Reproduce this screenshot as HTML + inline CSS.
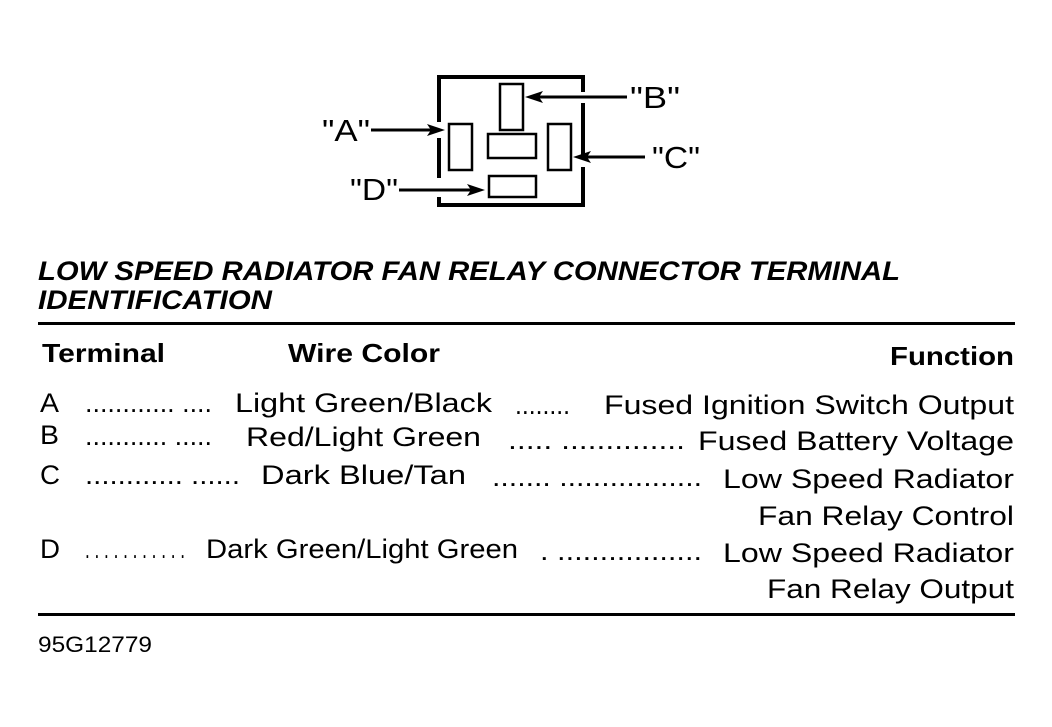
<!DOCTYPE html>
<html><head><meta charset="utf-8"><style>
html,body{margin:0;padding:0;background:#fff;}
svg{display:block;}
text{font-family:"Liberation Sans",Arial,sans-serif;fill:#000;}
.t{font-size:27px;}
.l{font-size:31px;}
.b{font-size:26px;font-weight:bold;}
.h{font-size:27px;font-weight:bold;font-style:italic;}
</style></head><body>
<svg width="1052" height="727" viewBox="0 0 1052 727" xmlns="http://www.w3.org/2000/svg">
<g stroke="#000" stroke-width="4" fill="none">
<line x1="437" y1="77" x2="585" y2="77"/>
<line x1="437" y1="205" x2="585" y2="205"/>
<line x1="439" y1="75" x2="439" y2="122"/>
<line x1="439" y1="138" x2="439" y2="178"/>
<line x1="439" y1="197" x2="439" y2="207"/>
<line x1="583" y1="75" x2="583" y2="92"/>
<line x1="583" y1="103" x2="583" y2="156"/>
<line x1="583" y1="167" x2="583" y2="207"/>
</g>
<g stroke="#000" stroke-width="2.5" fill="none">
<rect x="500" y="84" width="23" height="46"/>
<rect x="449" y="124" width="23" height="46"/>
<rect x="488" y="134" width="48" height="24"/>
<rect x="548" y="124" width="23" height="46"/>
<rect x="489" y="176" width="47" height="21"/>
</g>
<g stroke="#000" stroke-width="3">
<line x1="627" y1="97" x2="535" y2="97"/>
<line x1="371" y1="130" x2="435" y2="130"/>
<line x1="645" y1="157" x2="583" y2="157"/>
<line x1="399" y1="190" x2="475" y2="190"/>
</g>
<g fill="#000">
<polygon points="525,97 543,91 539,97 543,103"/>
<polygon points="445,130 427,124 431,130 427,136"/>
<polygon points="573,157 591,151 587,157 591,163"/>
<polygon points="485,190 467,184 471,190 467,196"/>
</g>
<text class="l" x="322" y="141" textLength="48" lengthAdjust="spacingAndGlyphs">"A"</text>
<text class="l" x="630" y="108" textLength="50" lengthAdjust="spacingAndGlyphs">"B"</text>
<text class="l" x="652" y="168" textLength="48" lengthAdjust="spacingAndGlyphs">"C"</text>
<text class="l" x="350" y="200" textLength="48" lengthAdjust="spacingAndGlyphs">"D"</text>

<text class="h" x="38" y="280" textLength="862" lengthAdjust="spacingAndGlyphs">LOW SPEED RADIATOR FAN RELAY CONNECTOR TERMINAL</text>
<text class="h" x="38" y="309" textLength="234" lengthAdjust="spacingAndGlyphs">IDENTIFICATION</text>
<rect x="38" y="322" width="977" height="3" fill="#000"/>
<text class="b" x="42" y="362" textLength="123" lengthAdjust="spacingAndGlyphs">Terminal</text>
<text class="b" x="288" y="362" textLength="152" lengthAdjust="spacingAndGlyphs">Wire Color</text>
<text class="b" x="890" y="365" textLength="124" lengthAdjust="spacingAndGlyphs">Function</text>

<text class="t" x="40" y="412" textLength="19" lengthAdjust="spacingAndGlyphs">A</text>
<text class="t" x="85" y="412" textLength="127" lengthAdjust="spacingAndGlyphs">............ ....</text>
<text class="t" x="235" y="412" textLength="257" lengthAdjust="spacingAndGlyphs">Light Green/Black</text>
<text class="t" x="515" y="414" textLength="55" lengthAdjust="spacingAndGlyphs">........</text>
<text class="t" x="604" y="414" textLength="410" lengthAdjust="spacingAndGlyphs">Fused Ignition Switch Output</text>

<text class="t" x="40" y="444" textLength="19" lengthAdjust="spacingAndGlyphs">B</text>
<text class="t" x="85" y="445" textLength="127" lengthAdjust="spacingAndGlyphs">........... .....</text>
<text class="t" x="246" y="446" textLength="235" lengthAdjust="spacingAndGlyphs">Red/Light Green</text>
<text class="t" x="508" y="449" textLength="177" lengthAdjust="spacingAndGlyphs">..... ..............</text>
<text class="t" x="698" y="450" textLength="316" lengthAdjust="spacingAndGlyphs">Fused Battery Voltage</text>

<text class="t" x="40" y="484" textLength="20" lengthAdjust="spacingAndGlyphs">C</text>
<text class="t" x="85" y="484" textLength="155" lengthAdjust="spacingAndGlyphs">............ ......</text>
<text class="t" x="261" y="484" textLength="205" lengthAdjust="spacingAndGlyphs">Dark Blue/Tan</text>
<text class="t" x="492" y="486" textLength="210" lengthAdjust="spacingAndGlyphs">....... .................</text>
<text class="t" x="723" y="488" textLength="291" lengthAdjust="spacingAndGlyphs">Low Speed Radiator</text>
<text class="t" x="758" y="525" textLength="256" lengthAdjust="spacingAndGlyphs">Fan Relay Control</text>

<text class="t" x="40" y="558" textLength="20" lengthAdjust="spacingAndGlyphs">D</text>
<text class="t" x="85" y="558" textLength="100" lengthAdjust="spacingAndGlyphs">. . . . . . . . . . .</text>
<text class="t" x="206" y="558" textLength="312" lengthAdjust="spacingAndGlyphs">Dark Green/Light Green</text>
<text class="t" x="540" y="560" textLength="162" lengthAdjust="spacingAndGlyphs">. .................</text>
<text class="t" x="723" y="562" textLength="291" lengthAdjust="spacingAndGlyphs">Low Speed Radiator</text>
<text class="t" x="767" y="598" textLength="247" lengthAdjust="spacingAndGlyphs">Fan Relay Output</text>

<rect x="38" y="613" width="977" height="3" fill="#000"/>
<text x="38" y="652" style="font-size:22px" textLength="114" lengthAdjust="spacingAndGlyphs">95G12779</text>
</svg>
</body></html>
